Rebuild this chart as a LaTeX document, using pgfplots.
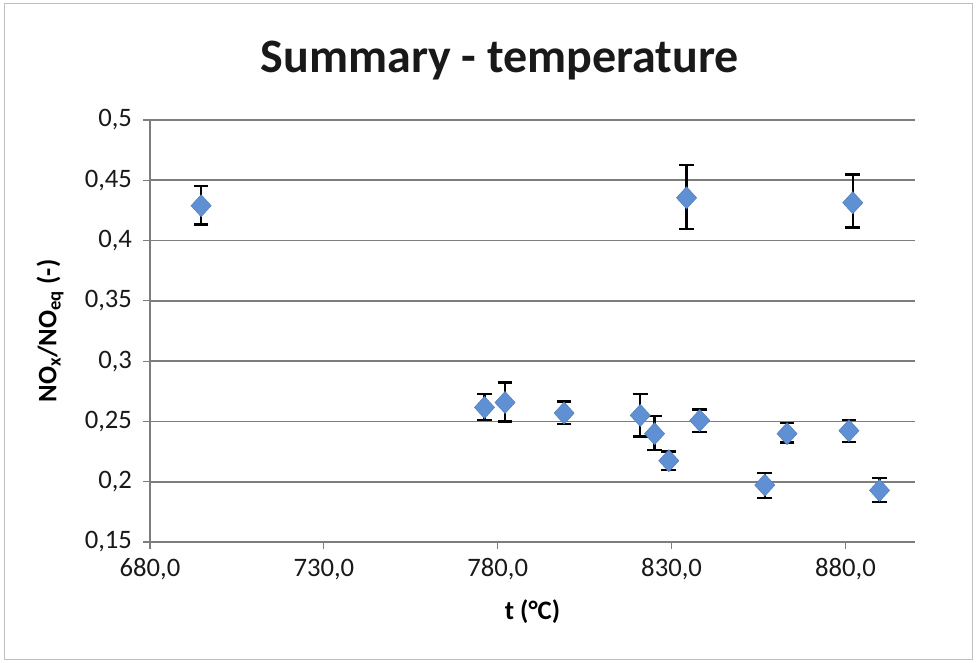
\documentclass[border=0pt]{standalone}
\usepackage{pgfplots}
\pgfplotsset{compat=1.18}
\usepackage{pgfplotstable}
\usepackage{fontspec}
\setmainfont{Carlito}
\definecolor{mblue}{RGB}{96,144,212}
\definecolor{gridc}{RGB}{125,125,125}
\pgfplotstableread{
x y ep em
694.7 0.4289 0.0162 0.0156
834.3 0.4355 0.0271 0.0260
882.1 0.4314 0.0235 0.0206
776.2 0.2616 0.0111 0.0105
782.1 0.2657 0.0166 0.0157
799.1 0.2569 0.0097 0.0091
821.0 0.2550 0.0177 0.0174
825.1 0.2398 0.0149 0.0138
829.2 0.2174 0.0077 0.0077
838.1 0.2508 0.0092 0.0094
856.8 0.1972 0.0103 0.0105
863.2 0.2398 0.0088 0.0072
881.0 0.2423 0.0091 0.0094
889.8 0.1928 0.0105 0.0099
}\datatable
\begin{document}
\begin{tikzpicture}
\useasboundingbox (-112.5pt,-90.75pt) rectangle (620.25pt,406.5pt);
\draw[gray!50, line width=0.6pt] (-109pt,-88pt) rectangle (617pt,404pt);
\begin{axis}[
  at={(0,0)}, anchor=south west,
  scale only axis, width=573.75pt, height=316.5pt,
  xmin=680, xmax=900, ymin=0.15, ymax=0.5,
  xtick={680,730,780,830,880},
  ytick={0.15,0.2,0.25,0.3,0.35,0.4,0.45,0.5},
  axis x line*=bottom, axis y line*=left,
  axis line style={gridc, line width=1.1pt, -},
  tick align=outside, major tick length=5pt,
  tick style={gridc, line width=0.9pt},
  ymajorgrids, grid style={gridc, line width=1.2pt},
  /pgf/number format/assume math mode=true,
  xticklabel style={/pgf/number format/fixed, /pgf/number format/fixed zerofill, /pgf/number format/precision=1, /pgf/number format/use comma, yshift=-4pt},
  yticklabel style={/pgf/number format/fixed, /pgf/number format/precision=2, /pgf/number format/use comma, xshift=-5pt},
  ticklabel style={font=\fontsize{20}{24}\selectfont, text=black!90},
  xlabel={\textbf{t (°C)}},
  ylabel={\textbf{NO\textsubscript{x}/NO\textsubscript{eq} (-)}},
  label style={font=\fontsize{20}{24}\selectfont},
  xlabel style={at={(axis description cs:0.5,-0.166)}, anchor=center},
  ylabel style={at={(axis description cs:-0.1307,0.5)}, anchor=center},
  clip=false,
]
\addplot[only marks, mark=none, black,
  error bars/.cd, y dir=both, y explicit,
  error bar style={line width=1.7pt, black},
  error mark options={rotate=90, mark size=5.5pt, line width=1.7pt, black}]
  table[x=x, y=y, y error plus=ep, y error minus=em]{\datatable};
\addplot[only marks, mark=diamond*, mark size=8.3pt,
  mark options={fill=mblue, draw=mblue!85!black, line width=0.3pt, xscale=1.22}]
  table[x=x, y=y]{\datatable};
\node[font=\fontsize{36}{42}\selectfont\bfseries, text=black!90] at (axis description cs:0.4575,1.142) {Summary - temperature};
\end{axis}
\end{tikzpicture}
\end{document}
